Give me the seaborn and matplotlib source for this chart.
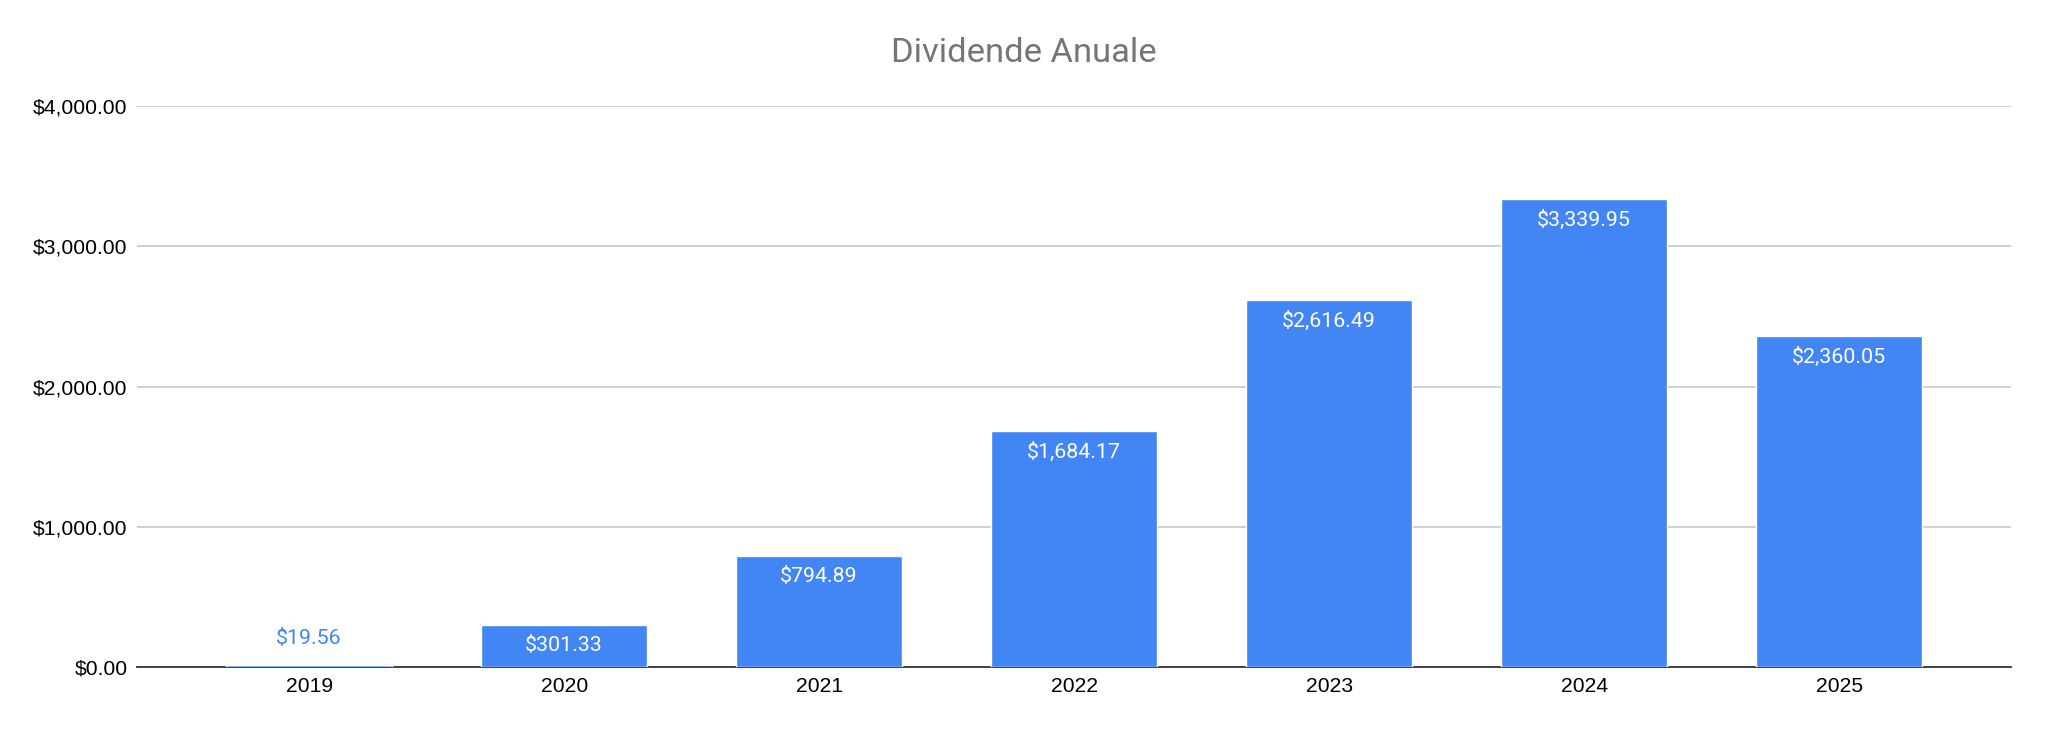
import matplotlib
matplotlib.use("Agg")
import matplotlib.pyplot as plt
import seaborn as sns
import pandas as pd

years = ["2019", "2020", "2021", "2022", "2023", "2024", "2025"]
dividends = [19.56, 301.33, 794.89, 1684.17, 2616.49, 3339.95, 2360.05]
y_ticks = [0, 1000, 2000, 3000, 4000]
title = "Dividende Anuale"

BAR = "#4285F4"

sns.set_theme(style="white")
plt.rcParams["font.family"] = ["Liberation Sans", "DejaVu Sans"]

df = pd.DataFrame({"year": years, "value": dividends})

fig = plt.figure(figsize=(20.48, 7.34), dpi=100)
ax = fig.add_axes([0.067, 0.0907, 0.915, 0.765])

sns.barplot(data=df, x="year", y="value", color=BAR, saturation=1, width=0.65, ax=ax, zorder=3)

ax.set_xlim(-0.674, 6.674)
ax.set_ylim(0, 4000)
ax.set_yticks(y_ticks)
ax.set_yticklabels([f"${v:,.2f}" for v in y_ticks])
ax.grid(axis="y", color="#cccccc", linewidth=1.3, zorder=0)
ax.set_axisbelow(True)
for s in ["top", "right", "left"]:
    ax.spines[s].set_visible(False)
ax.spines["bottom"].set_color("#333333")
ax.spines["bottom"].set_linewidth(1.3)
ax.spines["bottom"].set_zorder(2.5)
ax.tick_params(axis="y", length=0, pad=7, labelsize=15.2, labelcolor="#000000")
ax.tick_params(axis="x", length=0, pad=7, labelsize=15.2, labelcolor="#000000")
ax.set_xlabel("")
ax.set_ylabel("")

for i, v in enumerate(dividends):
    lab = f"${v:,.2f}"
    if v > 200:
        ax.annotate(lab, (i, v), xytext=(0, -8), textcoords="offset points",
                    ha="center", va="top", color="white", fontsize=15.4,
                    fontfamily=["Roboto", "DejaVu Sans"], zorder=6)
    else:
        ax.annotate(lab, (i, v), xytext=(0, 12), textcoords="offset points",
                    ha="center", va="bottom", color=BAR, fontsize=15.4,
                    fontfamily=["Roboto", "DejaVu Sans"], zorder=6)

fig.text(0.5, 0.928, title, ha="center", va="center", fontsize=24.8,
         color="#757575", fontfamily=["Roboto", "DejaVu Sans"])

fig.savefig("out.png", dpi=100, facecolor="white")
